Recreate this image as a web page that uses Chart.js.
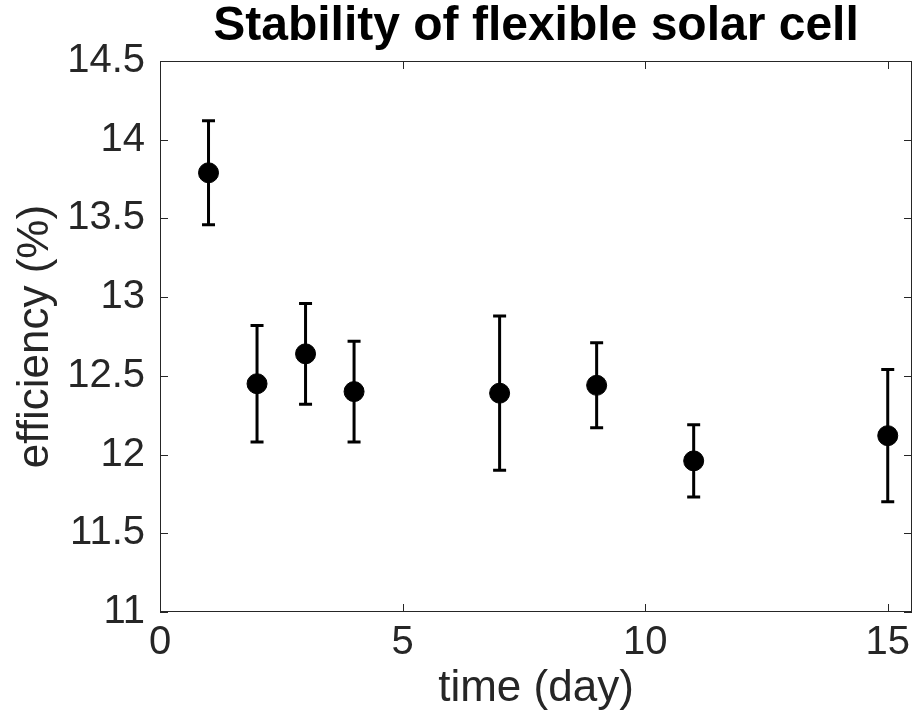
<!DOCTYPE html>
<html>
<head>
<meta charset="utf-8">
<script src="https://cdn.jsdelivr.net/npm/chart.js@4/dist/chart.umd.min.js"></script>
<style>
  html, body { margin: 0; padding: 0; background: #fff; }
  #wrap { width: 914px; height: 719px; }
</style>
</head>
<body>
<div id="wrap"><canvas id="stability_chart"></canvas></div>
<script>
// data
const days = [1, 2, 3, 4, 7, 9, 11, 15];
const efficiency = [13.79, 12.45, 12.64, 12.40, 12.39, 12.44, 11.96, 12.12];
const errors = [0.33, 0.37, 0.32, 0.32, 0.49, 0.27, 0.23, 0.42];
const xTicks = [0, 5, 10, 15];
const yTicks = [11, 11.5, 12, 12.5, 13, 13.5, 14, 14.5];

const axisColor = "#262626";

// error bars, drawn under the markers
const errorBarPlugin = {
  id: "errorBars",
  beforeDatasetsDraw(chart) {
    const ctx = chart.ctx;
    const xs = chart.scales.x;
    const ys = chart.scales.y;
    ctx.save();
    ctx.strokeStyle = "#000";
    ctx.lineWidth = 3;
    for (let i = 0; i < days.length; i++) {
      const x = xs.getPixelForValue(days[i]);
      const yTop = ys.getPixelForValue(efficiency[i] + errors[i]);
      const yBot = ys.getPixelForValue(efficiency[i] - errors[i]);
      ctx.beginPath();
      ctx.moveTo(x, yTop);
      ctx.lineTo(x, yBot);
      ctx.moveTo(x - 6.5, yTop);
      ctx.lineTo(x + 6.5, yTop);
      ctx.moveTo(x - 6.5, yBot);
      ctx.lineTo(x + 6.5, yBot);
      ctx.stroke();
    }
    ctx.restore();
  }
};

// box around the axes with inward ticks on all four sides
const boxPlugin = {
  id: "matlabBox",
  afterDraw(chart) {
    const ctx = chart.ctx;
    const a = chart.chartArea;
    const len = 8;
    ctx.save();
    ctx.strokeStyle = axisColor;
    ctx.lineWidth = 1;
    ctx.strokeRect(a.left + 0.5, a.top + 0.5, a.right - a.left - 1, a.bottom - a.top - 1);
    ctx.beginPath();
    chart.scales.x.ticks.forEach(t => {
      const x = Math.round(chart.scales.x.getPixelForValue(t.value)) + 0.5;
      ctx.moveTo(x, a.bottom);
      ctx.lineTo(x, a.bottom - len);
      ctx.moveTo(x, a.top);
      ctx.lineTo(x, a.top + len);
    });
    chart.scales.y.ticks.forEach(t => {
      const y = Math.round(chart.scales.y.getPixelForValue(t.value)) + 0.5;
      ctx.moveTo(a.left, y);
      ctx.lineTo(a.left + len, y);
      ctx.moveTo(a.right, y);
      ctx.lineTo(a.right - len, y);
    });
    ctx.stroke();
    ctx.restore();
  }
};

const ctx = document.getElementById("stability_chart").getContext("2d");
const stability_chart = new Chart(ctx, {
  type: "scatter",
  data: {
    datasets: [{
      label: "efficiency",
      data: days.map((d, i) => ({ x: d, y: efficiency[i] })),
      backgroundColor: "#000",
      borderColor: "#000",
      pointRadius: 10,
      pointHoverRadius: 10
    }]
  },
  plugins: [errorBarPlugin, boxPlugin],
  options: {
    responsive: true,
    maintainAspectRatio: false,
    animation: false,
    layout: { autoPadding: false, padding: { left: 0, right: 2, top: 0, bottom: 0 } },
    plugins: {
      legend: { display: false },
      tooltip: { enabled: false },
      title: {
        display: true,
        text: "Stability of flexible solar cell",
        color: "#000",
        fullSize: false,
        font: { family: "Liberation Sans, Arial, sans-serif", size: 48, weight: "bold", lineHeight: 1 },
        padding: { top: 3, bottom: 10 }
      }
    },
    scales: {
      x: {
        type: "linear",
        min: 0,
        max: 15.5,
        afterBuildTicks: s => { s.ticks = xTicks.map(v => ({ value: v })); },
        afterFit: s => { s.height = 107; s.paddingLeft = 0; s.paddingRight = 0; },
        grid: { display: false, drawTicks: false },
        border: { display: false },
        ticks: {
          color: axisColor,
          padding: 7,
          maxRotation: 0,
          font: { family: "Liberation Sans, Arial, sans-serif", size: 40 }
        },
        title: {
          display: true,
          text: "time (day)",
          color: axisColor,
          font: { family: "Liberation Sans, Arial, sans-serif", size: 44 },
          padding: { top: 0, bottom: 4 }
        }
      },
      y: {
        type: "linear",
        min: 11,
        max: 14.5,
        afterBuildTicks: s => { s.ticks = yTicks.map(v => ({ value: v })); },
        afterFit: s => { s.width = 160; s.paddingTop = 0; s.paddingBottom = 0; },
        grid: { display: false, drawTicks: false },
        border: { display: false },
        ticks: {
          color: axisColor,
          padding: 15,
          callback: v => String(v),
          font: { family: "Liberation Sans, Arial, sans-serif", size: 40 }
        },
        title: {
          display: true,
          text: "efficiency (%)",
          color: axisColor,
          font: { family: "Liberation Sans, Arial, sans-serif", size: 44 },
          padding: { top: 9, bottom: 0 }
        }
      }
    }
  }
});
</script>
</body>
</html>
